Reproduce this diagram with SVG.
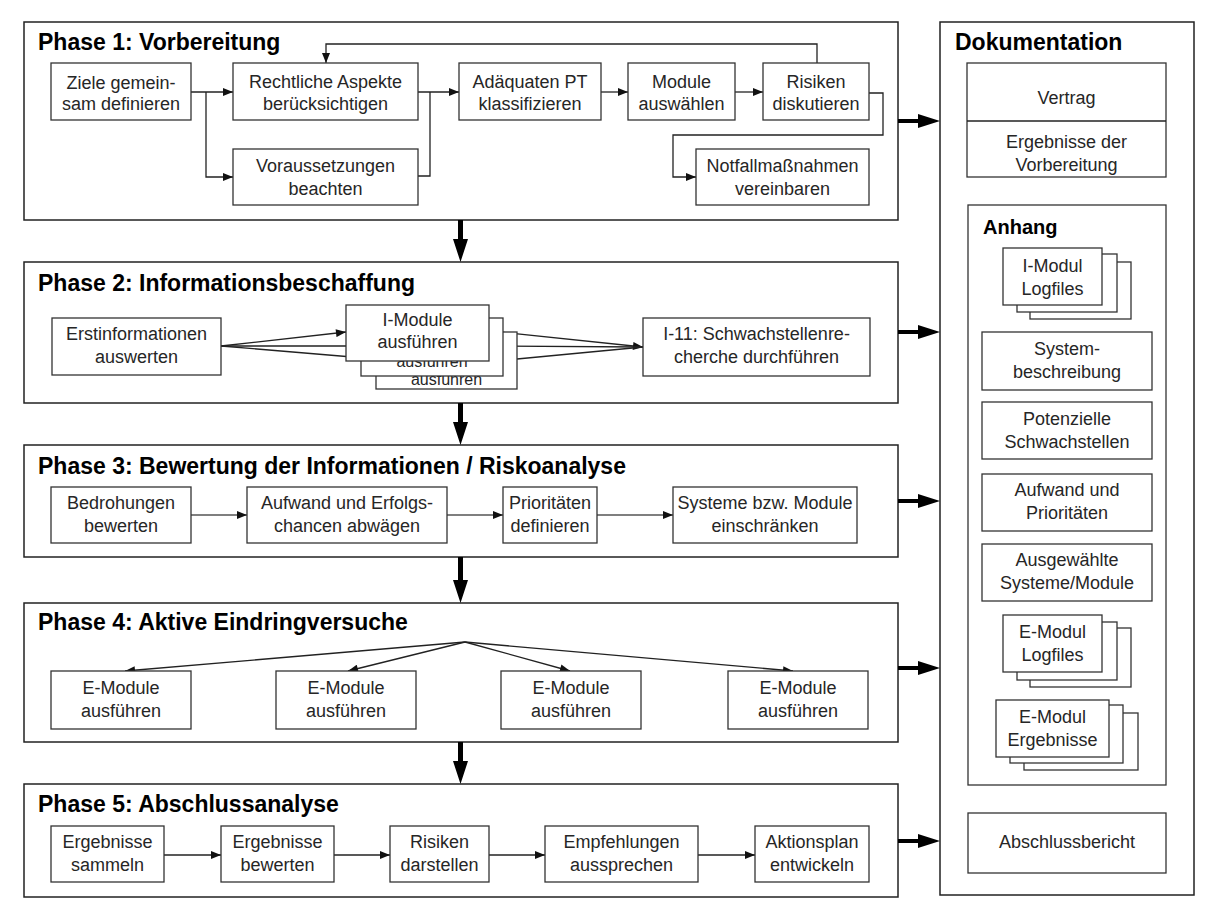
<svg xmlns="http://www.w3.org/2000/svg" width="1213" height="914" viewBox="0 0 1213 914">
<style>
.ph{fill:#fff;stroke:#222;stroke-width:1.5}
.bx{fill:#fff;stroke:#333;stroke-width:1.3}
.t{font-family:"Liberation Sans",Arial,sans-serif;font-size:18px;fill:#262626;text-anchor:middle}
.tb{font-family:"Liberation Sans",Arial,sans-serif;font-size:16px;fill:#262626;text-anchor:middle}
.h{font-family:"Liberation Sans",Arial,sans-serif;font-size:23px;font-weight:bold;fill:#000}
.h2{font-family:"Liberation Sans",Arial,sans-serif;font-size:20px;font-weight:bold;fill:#000}
.c{fill:none;stroke:#222;stroke-width:1.3}
.cg{fill:none;stroke:#555;stroke-width:1.3}
.big{fill:#000;stroke:none}
</style>
<defs>
<marker id="a" viewBox="0 0 10 8" refX="10" refY="4" markerWidth="11" markerHeight="8" markerUnits="userSpaceOnUse" orient="auto"><path d="M0,0L10,4L0,8z" fill="#111"/></marker>
</defs>
<rect width="1213" height="914" fill="#fff"/>

<!-- phase frames -->
<g id="phase1"><rect class="ph" x="24" y="22" width="874" height="198"/><text class="h" x="38" y="50">Phase 1: Vorbereitung</text></g>
<g id="phase2"><rect class="ph" x="24" y="262" width="874" height="141"/><text class="h" x="38" y="291">Phase 2: Informationsbeschaffung</text></g>
<g id="phase3"><rect class="ph" x="24" y="445" width="874" height="112"/><text class="h" x="38" y="474">Phase 3: Bewertung der Informationen / Riskoanalyse</text></g>
<g id="phase4"><rect class="ph" x="24" y="603" width="874" height="139"/><text class="h" x="38" y="630">Phase 4: Aktive Eindringversuche</text></g>
<g id="phase5"><rect class="ph" x="24" y="784" width="874" height="113"/><text class="h" x="38" y="812">Phase 5: Abschlussanalyse</text></g>
<g id="doku"><rect class="ph" x="940" y="22" width="254" height="873"/><text class="h" x="955" y="50">Dokumentation</text></g>

<!-- connectors -->
<g id="connectors">
<!-- phase 1 -->
<path class="c" d="M191,92H233" marker-end="url(#a)"/>
<path class="c" d="M206,92V177H233" marker-end="url(#a)"/>
<path class="c" d="M418,92H459" marker-end="url(#a)"/>
<path class="c" d="M418,176H430V92"/>
<path class="c" d="M601,92H628" marker-end="url(#a)"/>
<path class="c" d="M735,92H763" marker-end="url(#a)"/>
<path class="c" d="M817,63V44H326V63" marker-end="url(#a)"/>
<path class="c" d="M869,93H883V135H673V177H696" marker-end="url(#a)"/>
<!-- phase 2 -->
<path class="c" d="M221,346L346,332" marker-end="url(#a)"/>
<path class="c" d="M221,346H361"/>
<path class="c" d="M221,346L376,359"/>
<path class="c" d="M490,331L643,347" marker-end="url(#a)"/>
<path class="c" d="M503,346L643,347"/>
<path class="c" d="M517,359L643,347"/>
<!-- phase 3 -->
<path class="cg" d="M191,515H247" marker-end="url(#a)"/>
<path class="cg" d="M447,515H503" marker-end="url(#a)"/>
<path class="cg" d="M597,515H673" marker-end="url(#a)"/>
<!-- phase 4 -->
<path class="c" d="M465,642L125,671" marker-end="url(#a)"/>
<path class="c" d="M465,642L348,671" marker-end="url(#a)"/>
<path class="c" d="M465,642L570,671" marker-end="url(#a)"/>
<path class="c" d="M465,642L793,671" marker-end="url(#a)"/>
<!-- phase 5 -->
<path class="c" d="M164,855H221" marker-end="url(#a)"/>
<path class="c" d="M334,855H390" marker-end="url(#a)"/>
<path class="c" d="M489,855H545" marker-end="url(#a)"/>
<path class="c" d="M698,855H755" marker-end="url(#a)"/>
<!-- thick arrows between phases -->
<path class="big" d="M458,220h5v19h5l-7.5,23l-7.5,-23h5z"/>
<path class="big" d="M458,403h5v19h5l-7.5,23l-7.5,-23h5z"/>
<path class="big" d="M458,557h5v23h5l-7.5,23l-7.5,-23h5z"/>
<path class="big" d="M458,742h5v19h5l-7.5,23l-7.5,-23h5z"/>
<!-- thick arrows to documentation -->
<path class="big" d="M898,119H918V114L940,121L918,128V123H898z"/>
<path class="big" d="M898,330H918V325L940,332L918,339V334H898z"/>
<path class="big" d="M898,499H918V494L940,501L918,508V503H898z"/>
<path class="big" d="M898,666H918V661L940,668L918,675V670H898z"/>
<path class="big" d="M898,839H918V834L940,841L918,848V843H898z"/>
</g>

<!-- phase 1 nodes -->
<g id="ziele"><rect class="bx" x="51" y="63" width="140" height="57"/><text class="t" x="121" y="89">Ziele gemein-</text><text class="t" x="121" y="110">sam definieren</text></g>
<g id="rechtlich"><rect class="bx" x="233" y="63" width="185" height="57"/><text class="t" x="325.5" y="88">Rechtliche Aspekte</text><text class="t" x="325.5" y="110">berücksichtigen</text></g>
<g id="voraus"><rect class="bx" x="233" y="149" width="185" height="56"/><text class="t" x="325.5" y="172">Voraussetzungen</text><text class="t" x="325.5" y="195">beachten</text></g>
<g id="adaequat"><rect class="bx" x="459" y="63" width="142" height="57"/><text class="t" x="530" y="88">Adäquaten PT</text><text class="t" x="530" y="110">klassifizieren</text></g>
<g id="module"><rect class="bx" x="628" y="63" width="107" height="57"/><text class="t" x="681.5" y="88">Module</text><text class="t" x="681.5" y="110">auswählen</text></g>
<g id="risiken1"><rect class="bx" x="763" y="63" width="106" height="57"/><text class="t" x="816" y="88">Risiken</text><text class="t" x="816" y="110">diskutieren</text></g>
<g id="notfall"><rect class="bx" x="696" y="149" width="173" height="56"/><text class="t" x="782.5" y="172">Notfallmaßnahmen</text><text class="t" x="782.5" y="195">vereinbaren</text></g>

<!-- phase 2 nodes -->
<g id="erstinfo"><rect class="bx" x="52" y="318" width="169" height="57"/><text class="t" x="136.5" y="340">Erstinformationen</text><text class="t" x="136.5" y="363">auswerten</text></g>
<g id="imodule">
<rect class="bx" x="376" y="332" width="141" height="57"/><text class="tb" x="446.5" y="385">ausführen</text>
<rect class="bx" x="361" y="318" width="142" height="58"/><text class="tb" x="432" y="367">ausführen</text>
<rect class="bx" x="346" y="305" width="143" height="56"/><text class="t" x="417.5" y="326">I-Module</text><text class="t" x="417.5" y="348">ausführen</text>
</g>
<g id="i11"><rect class="bx" x="643" y="318" width="227" height="58"/><text class="t" x="756.5" y="340">I-11: Schwachstellenre-</text><text class="t" x="756.5" y="363">cherche durchführen</text></g>

<!-- phase 3 nodes -->
<g id="bedrohung"><rect class="bx" x="51" y="487" width="140" height="56"/><text class="t" x="121" y="509">Bedrohungen</text><text class="t" x="121" y="532">bewerten</text></g>
<g id="aufwand"><rect class="bx" x="247" y="487" width="200" height="56"/><text class="t" x="347" y="509">Aufwand und Erfolgs-</text><text class="t" x="347" y="532">chancen abwägen</text></g>
<g id="prio"><rect class="bx" x="503" y="487" width="94" height="56"/><text class="t" x="550" y="509">Prioritäten</text><text class="t" x="550" y="532">definieren</text></g>
<g id="systeme"><rect class="bx" x="673" y="487" width="184" height="56"/><text class="t" x="765" y="509">Systeme bzw. Module</text><text class="t" x="765" y="532">einschränken</text></g>

<!-- phase 4 nodes -->
<g id="em1"><rect class="bx" x="51" y="671" width="140" height="58"/><text class="t" x="121" y="694">E-Module</text><text class="t" x="121" y="717">ausführen</text></g>
<g id="em2"><rect class="bx" x="276" y="671" width="140" height="58"/><text class="t" x="346" y="694">E-Module</text><text class="t" x="346" y="717">ausführen</text></g>
<g id="em3"><rect class="bx" x="501" y="671" width="140" height="58"/><text class="t" x="571" y="694">E-Module</text><text class="t" x="571" y="717">ausführen</text></g>
<g id="em4"><rect class="bx" x="728" y="671" width="140" height="58"/><text class="t" x="798" y="694">E-Module</text><text class="t" x="798" y="717">ausführen</text></g>

<!-- phase 5 nodes -->
<g id="sammeln"><rect class="bx" x="51" y="826" width="113" height="56"/><text class="t" x="107.5" y="848">Ergebnisse</text><text class="t" x="107.5" y="871">sammeln</text></g>
<g id="bewerten"><rect class="bx" x="221" y="826" width="113" height="56"/><text class="t" x="277.5" y="848">Ergebnisse</text><text class="t" x="277.5" y="871">bewerten</text></g>
<g id="darstellen"><rect class="bx" x="390" y="826" width="99" height="56"/><text class="t" x="439.5" y="848">Risiken</text><text class="t" x="439.5" y="871">darstellen</text></g>
<g id="empfehlung"><rect class="bx" x="545" y="826" width="153" height="56"/><text class="t" x="621.5" y="848">Empfehlungen</text><text class="t" x="621.5" y="871">aussprechen</text></g>
<g id="aktion"><rect class="bx" x="755" y="826" width="114" height="56"/><text class="t" x="812" y="848">Aktionsplan</text><text class="t" x="812" y="871">entwickeln</text></g>

<!-- documentation column -->
<g id="vertrag"><rect class="bx" x="967" y="63" width="199" height="114"/><line class="c" x1="967" y1="121" x2="1166" y2="121"/><text class="t" x="1066.5" y="104">Vertrag</text><text class="t" x="1066.5" y="148">Ergebnisse der</text><text class="t" x="1066.5" y="171">Vorbereitung</text></g>
<g id="anhang"><rect class="bx" x="968" y="205" width="198" height="580"/><text class="h2" x="983" y="234">Anhang</text></g>
<g id="imodlog">
<rect class="bx" x="1030" y="262" width="101" height="57"/>
<rect class="bx" x="1017" y="254" width="100" height="58"/>
<rect class="bx" x="1003" y="248" width="99" height="57"/><text class="t" x="1052.5" y="272">I-Modul</text><text class="t" x="1052.5" y="295">Logfiles</text>
</g>
<g id="sysbeschr"><rect class="bx" x="982" y="332" width="170" height="58"/><text class="t" x="1067" y="355">System-</text><text class="t" x="1067" y="378">beschreibung</text></g>
<g id="potschw"><rect class="bx" x="982" y="402" width="170" height="57"/><text class="t" x="1067" y="425">Potenzielle</text><text class="t" x="1067" y="448">Schwachstellen</text></g>
<g id="aufprio"><rect class="bx" x="982" y="474" width="170" height="57"/><text class="t" x="1067" y="496">Aufwand und</text><text class="t" x="1067" y="519">Prioritäten</text></g>
<g id="ausgew"><rect class="bx" x="982" y="544" width="170" height="57"/><text class="t" x="1067" y="566">Ausgewählte</text><text class="t" x="1067" y="589">Systeme/Module</text></g>
<g id="emodlog">
<rect class="bx" x="1030" y="628" width="101" height="59"/>
<rect class="bx" x="1017" y="622" width="100" height="58"/>
<rect class="bx" x="1003" y="615" width="99" height="57"/><text class="t" x="1052.5" y="638">E-Modul</text><text class="t" x="1052.5" y="661">Logfiles</text>
</g>
<g id="emoderg">
<rect class="bx" x="1024" y="713" width="114" height="57"/>
<rect class="bx" x="1010" y="705" width="113" height="58"/>
<rect class="bx" x="996" y="700" width="113" height="57"/><text class="t" x="1052.5" y="723">E-Modul</text><text class="t" x="1052.5" y="746">Ergebnisse</text>
</g>
<g id="abschluss"><rect class="bx" x="968" y="813" width="198" height="60"/><text class="t" x="1067" y="848">Abschlussbericht</text></g>
</svg>
